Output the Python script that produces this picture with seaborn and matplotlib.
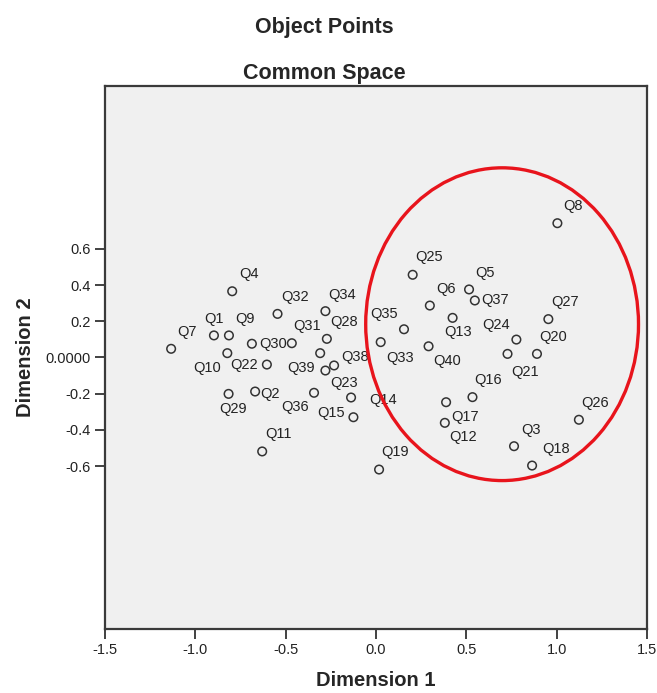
import matplotlib
matplotlib.use("Agg")
import matplotlib.pyplot as plt
from matplotlib.patches import Ellipse
import pandas as pd
import seaborn as sb

# object points
items = ["Q1", "Q2", "Q3", "Q4", "Q5", "Q6", "Q7", "Q8", "Q9", "Q10",
         "Q11", "Q12", "Q13", "Q14", "Q15", "Q16", "Q17", "Q18", "Q19", "Q20",
         "Q21", "Q22", "Q23", "Q24", "Q25", "Q26", "Q27", "Q28", "Q29", "Q30",
         "Q31", "Q32", "Q33", "Q34", "Q35", "Q36", "Q37", "Q38", "Q39", "Q40"]
dim1 = [-0.897, -0.669, 0.764, -0.796, 0.515, 0.298, -1.134, 1.004, -0.814, -0.823,
        -0.630, 0.381, 0.424, -0.138, -0.125, 0.534, 0.388, 0.864, 0.017, 0.891,
        0.728, -0.604, -0.280, 0.777, 0.203, 1.123, 0.954, -0.272, -0.816, -0.687,
        -0.466, -0.545, 0.026, -0.280, 0.155, -0.343, 0.547, -0.232, -0.309, 0.291]
dim2 = [0.122, -0.188, -0.490, 0.366, 0.376, 0.287, 0.048, 0.742, 0.122, 0.024,
        -0.519, -0.361, 0.219, -0.221, -0.330, -0.219, -0.247, -0.597, -0.619, 0.020,
        0.020, -0.039, -0.072, 0.099, 0.457, -0.344, 0.212, 0.103, -0.201, 0.076,
        0.079, 0.241, 0.085, 0.256, 0.156, -0.195, 0.315, -0.044, 0.024, 0.062]

x_ticks = [-1.5, -1.0, -0.5, 0.0, 0.5, 1.0, 1.5]
x_tick_labels = ["-1.5", "-1.0", "-0.5", "0.0", "0.5", "1.0", "1.5"]
y_ticks = [-0.6, -0.4, -0.2, 0.0, 0.2, 0.4, 0.6]
y_tick_labels = ["-0.6", "-0.4", "-0.2", "0.0000", "0.2", "0.4", "0.6"]

# where each label sits relative to its point (pixels, right / down)
label_offsets = {
    "Q1": (0, -16), "Q2": (15, 2), "Q3": (17, -16), "Q4": (17, -17), "Q5": (16, -16),
    "Q6": (16, -17), "Q7": (16, -17), "Q8": (16, -17), "Q9": (16, -16), "Q10": (-20, 15),
    "Q11": (16, -17), "Q12": (18, 14), "Q13": (5, 14), "Q14": (32, 2), "Q15": (-22, -4),
    "Q16": (16, -17), "Q17": (19, 15), "Q18": (24, -17), "Q19": (16, -18), "Q20": (16, -17),
    "Q21": (18, 18), "Q22": (-23, 0), "Q23": (19, 12), "Q24": (-20, -15), "Q25": (16, -18),
    "Q26": (16, -17), "Q27": (17, -17), "Q28": (17, -17), "Q29": (4, 15), "Q30": (21, 0),
    "Q31": (15, -17), "Q32": (18, -17), "Q33": (19, 16), "Q34": (17, -16), "Q35": (-20, -15),
    "Q36": (-19, 14), "Q37": (20, 0), "Q38": (21, -8), "Q39": (-19, 15), "Q40": (19, 15),
}

points = pd.DataFrame({"item": items, "dim1": dim1, "dim2": dim2})

sb.set_style("white")
plt.rcParams["font.family"] = ["Liberation Sans", "DejaVu Sans"]

fig = plt.figure(figsize=(6.57, 6.93), dpi=100)
ax = fig.add_axes([105 / 657, 1 - 629 / 693, 542 / 657, 543 / 693])
ax.set_facecolor("#f0f0f0")

sb.scatterplot(x="dim1", y="dim2", data=points, ax=ax, s=38,
               facecolor="none", edgecolor="#333333", linewidth=1.1, zorder=3)

for name, px, py in zip(points["item"], points["dim1"], points["dim2"]):
    dx, dy = label_offsets[name]
    ax.annotate(name, (px, py), xytext=(dx, -dy), textcoords="offset pixels",
                ha="center", va="center", fontsize=10.5, color="#222222", zorder=4)

# highlighted cluster drawn over the points
ax.add_patch(Ellipse((0.698, 0.184), 1.510, 1.728, fill=False,
                     edgecolor="#e8141c", linewidth=2.4, zorder=5))

ax.set_xlim(-1.5, 1.5)
ax.set_ylim(-1.5, 1.5)
ax.set_xticks(x_ticks)
ax.set_xticklabels(x_tick_labels)
ax.set_yticks(y_ticks)
ax.set_yticklabels(y_tick_labels)
ax.tick_params(axis="both", direction="out", length=7, width=1.3,
               color="#333333", labelsize=10.5, labelcolor="#222222", pad=3)
ax.tick_params(top=False, right=False, left=True, bottom=True)

for side in ax.spines.values():
    side.set_visible(True)
    side.set_color("#3a3a3a")
    side.set_linewidth(1.6)

ax.set_xlabel("Dimension 1", fontsize=14.5, fontweight="bold", labelpad=10)
ax.set_ylabel("Dimension 2", fontsize=14.5, fontweight="bold", labelpad=8)

fig.text(324 / 657, 1 - 28 / 693, "Object Points", ha="center", va="center",
         fontsize=15.5, fontweight="bold")
fig.text(324 / 657, 1 - 73 / 693, "Common Space", ha="center", va="center",
         fontsize=15.5, fontweight="bold")

plt.savefig("out.png", dpi=100)
